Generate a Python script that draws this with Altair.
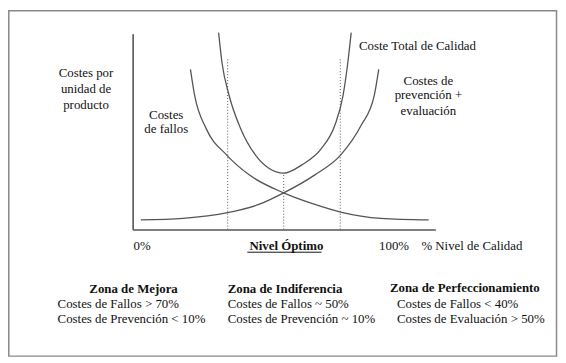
import altair as alt
import pandas as pd

# ---- Curves (x: quality level, y: cost per unit; abstract 0-100 units) ----
prev_x = [2.7, 16.7, 31.4, 41.7, 49.9, 60.2, 68.7, 75.5, 79.8, 81.3]
prev_y = [4.9, 5.7, 8.6, 12.8, 18.7, 27.9, 38.0, 53.2, 68.3, 81.8]
fallos_x = [19.1, 20.5, 24.3, 31.1, 38.5, 49.9, 60.2, 68.7, 82.0, 97.8]
fallos_y = [81.8, 68.3, 51.5, 38.0, 27.9, 18.7, 12.8, 8.9, 5.7, 4.9]
total_x = [28.4, 29.5, 31.9, 35.7, 40.6, 45.0, 49.9, 55.9, 62.4, 66.8, 69.5, 71.1, 72.2]
total_y = [100.5, 85.4, 68.3, 51.5, 38.0, 31.3, 28.8, 33.0, 41.4, 53.2, 68.3, 85.4, 100.5]

# ---- Zone boundaries (dotted verticals) ----
zone_x = [31.4, 49.9, 68.6]
zone_top = [86.9, 28.8, 86.9]

# ---- Annotation texts ----
center_text = ["Costes por", "unidad de", "producto", "Costes", "de fallos",
               "Costes de", "prevención +", "evaluación"]
center_x = [-15.4, -15.4, -15.4, 11.1, 11.1, 97.7, 97.7, 97.7]
center_y = [79.8, 71.7, 63.4, 58.6, 51.3, 76.0, 68.4, 60.7]

left_text = ["Coste Total de Calidad", "0%", "100%", "% Nivel de Calidad",
             "Costes de Fallos > 70%", "Costes de Prevención < 10%",
             "Costes de Fallos ~ 50%", "Costes de Prevención ~ 10%",
             "Costes de Fallos < 40%", "Costes de Evaluación > 50%"]
left_x = [74.8, 0.3, 81.4, 95.4, -24.8, -24.8, 31.4, 31.4, 87.3, 87.3]
left_y = [93.9, -8.6, -8.6, -8.6, -37.9, -45.7, -37.9, -45.7, -37.9, -45.7]

bold_center_text = ["Nivel Óptimo", "Zona de Mejora"]
bold_center_x = [50.8, 0.3]
bold_center_y = [-8.6, -30.3]

bold_left_text = ["Zona de Indiferencia", "Zona de Perfeccionamiento"]
bold_left_x = [31.4, 85.0]
bold_left_y = [-30.3, -29.8]

underline_x = [37.9]
underline_x2 = [62.4]
underline_y = [-11.6]

FONT = "'Liberation Serif', 'Times New Roman', 'DejaVu Serif', serif"
CURVE = "#555555"

curves = pd.concat([
    pd.DataFrame({"x": prev_x, "y": prev_y, "serie": "prevencion"}),
    pd.DataFrame({"x": fallos_x, "y": fallos_y, "serie": "fallos"}),
    pd.DataFrame({"x": total_x, "y": total_y, "serie": "total"}),
])

xs = alt.Scale(domain=[0, 100], nice=False, zero=False)
ys = alt.Scale(domain=[0, 100], nice=False, zero=False)

lines = alt.Chart(curves).mark_line(
    interpolate="monotone", color=CURVE, strokeWidth=1.3
).encode(
    x=alt.X("x:Q", scale=xs, title=None),
    y=alt.Y("y:Q", scale=ys, title=None),
    detail="serie:N",
)

zones = alt.Chart(pd.DataFrame({"x": zone_x, "top": zone_top, "base": [0, 0, 0]})).mark_rule(
    color="#555555", strokeWidth=1, strokeDash=[1, 2]
).encode(
    x=alt.X("x:Q", scale=xs, title=None),
    y=alt.Y("base:Q", scale=ys, title=None),
    y2="top:Q",
)


def text_layer(texts, xv, yv, align, weight):
    df = pd.DataFrame({"t": texts, "x": xv, "y": yv})
    return alt.Chart(df).mark_text(
        align=align, baseline="middle", font=FONT, fontSize=13,
        fontWeight=weight, color="#111111"
    ).encode(
        x=alt.X("x:Q", scale=xs, title=None),
        y=alt.Y("y:Q", scale=ys, title=None),
        text="t:N",
    )


t1 = text_layer(center_text, center_x, center_y, "center", "normal")
t2 = text_layer(left_text, left_x, left_y, "left", "normal")
t3 = text_layer(bold_center_text, bold_center_x, bold_center_y, "center", "bold")
t4 = text_layer(bold_left_text, bold_left_x, bold_left_y, "left", "bold")

underline = alt.Chart(pd.DataFrame({"x": underline_x, "x2": underline_x2, "y": underline_y})).mark_rule(
    color="#111111", strokeWidth=1
).encode(
    x=alt.X("x:Q", scale=xs, title=None),
    x2="x2:Q",
    y=alt.Y("y:Q", scale=ys, title=None),
)

frame = alt.Chart(pd.DataFrame({"a": [0]})).mark_rect(
    fillOpacity=0, stroke="#888888", strokeWidth=1.5
).encode(
    x=alt.value(-125.2), x2=alt.value(428.5),
    y=alt.value(-23.2), y2=alt.value(326.0),
)

W, H = 556, 351
chart = alt.layer(lines, zones, t1, t2, t3, t4, underline, frame).properties(
    width=306, height=198,
    autosize=alt.AutoSizeParams(type="none"),
    padding={"left": 126, "top": 24, "right": W - 126 - 306, "bottom": H - 24 - 198},
    background="white",
).configure_view(stroke=None).configure_axis(
    labels=False, ticks=False, grid=False, domainColor="#555555", domainWidth=1.6
)

chart.save("out.html", embed_options={"renderer": "svg", "actions": False})
